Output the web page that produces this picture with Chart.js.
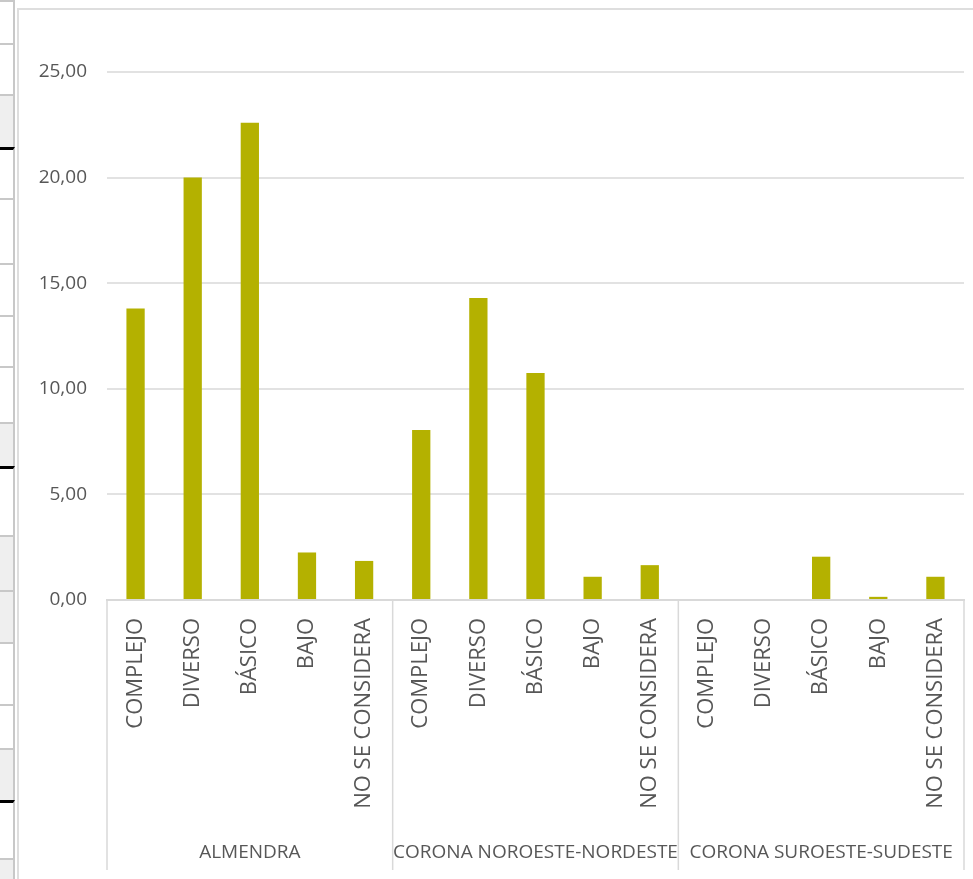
<!DOCTYPE html>
<html>
<head>
<meta charset="utf-8">
<script src="https://cdn.jsdelivr.net/npm/chart.js@4.4.1/dist/chart.umd.min.js"></script>
<style>
  body { margin: 0; background: #fff; width: 973px; height: 879px; overflow: hidden; position: relative; font-family: 'Open Sans', sans-serif; }
  #strip { position: absolute; left: 0; top: 0; width: 16px; height: 879px; }
  .row { position: absolute; left: 0; width: 15px; border-right: 2px solid #c8c8c8; box-sizing: border-box; }
  #frame { position: absolute; left: 17px; top: 8px; right: 0; bottom: 0; border-left: 2px solid #dedede; border-top: 2px solid #dedede; background: #fff; }
  #wrap { position: absolute; left: 18px; top: 10px; width: 955px; height: 869px; }
</style>
</head>
<body>
<div id="strip"></div>
<div id="frame"></div>
<div id="wrap"><canvas id="myChart"></canvas></div>
<script>
'use strict';

// data
var groups = ['ALMENDRA', 'CORONA NOROESTE-NORDESTE', 'CORONA SUROESTE-SUDESTE'];
var levels = ['COMPLEJO', 'DIVERSO', 'BÁSICO', 'BAJO', 'NO SE CONSIDERA'];
var almendra = [13.8, 20.0, 22.6, 2.25, 1.85];
var coronaNN = [8.05, 14.3, 10.75, 1.1, 1.65];
var coronaSS = [0, 0, 2.05, 0.15, 1.1];
var yTicks = [0, 5, 10, 15, 20, 25];

// spreadsheet rows peeking out on the left (top, bottom, grey?, black lines?)
var stripRows = [
    [0, 43, false, false], [43, 94, false, false], [94, 147, true, false],
    [147, 198, false, true], [198, 263, false, false], [263, 315, false, false],
    [315, 366, false, false], [366, 422, false, false], [422, 466, true, false],
    [466, 535, false, true], [535, 590, true, false], [590, 642, true, false],
    [642, 704, false, false], [704, 748, false, false], [748, 800, true, false],
    [800, 858, false, true], [858, 879, true, false]
];
var strip = document.getElementById('strip');
for (var r = 0; r < stripRows.length; r++) {
    var div = document.createElement('div');
    div.className = 'row';
    div.style.top = stripRows[r][0] + 'px';
    div.style.height = (stripRows[r][1] - stripRows[r][0]) + 'px';
    div.style.background = stripRows[r][2] ? '#efefef' : '#ffffff';
    var lineColor = stripRows[r][3] ? '#000' : '#c8c8c8';
    div.style.borderTop = (stripRows[r][3] ? 3 : 2) + 'px solid ' + lineColor;
    strip.appendChild(div);
}

var labels = [];
var values = [];
var series = [almendra, coronaNN, coronaSS];
for (var g = 0; g < groups.length; g++) {
    for (var i = 0; i < levels.length; i++) {
        labels.push(levels[i]);
        values.push(series[g][i]);
    }
}

var textColor = '#575757';
var lineGrey = '#d9d9d9';

// draws the second row of the category axis: group names and separators
var groupAxis = {
    id: 'groupAxis',
    afterDraw: function (chart) {
        var ctx = chart.ctx;
        var xs = chart.scales.x;
        var area = chart.chartArea;
        var step = (xs.right - xs.left) / labels.length;
        ctx.save();
        ctx.strokeStyle = lineGrey;
        ctx.lineWidth = 1.5;
        for (var g = 0; g <= groups.length; g++) {
            var x = xs.left + g * levels.length * step;
            ctx.beginPath();
            ctx.moveTo(x, area.bottom);
            ctx.lineTo(x, area.bottom + 270);
            ctx.stroke();
        }
        ctx.fillStyle = textColor;
        ctx.font = '19px "Open Sans"';
        ctx.textAlign = 'center';
        ctx.textBaseline = 'middle';
        for (var g = 0; g < groups.length; g++) {
            var cx = xs.left + (g + 0.5) * levels.length * step;
            ctx.fillText(groups[g], cx, area.bottom + 253);
        }
        ctx.restore();
    }
};

var ctx = document.getElementById('myChart').getContext('2d');
var chart = new Chart(ctx, {
    type: 'bar',
    data: {
        labels: labels,
        datasets: [{
            label: 'Serie',
            data: values,
            backgroundColor: '#b4b100',
            borderWidth: 0,
            barPercentage: 0.32,
            categoryPercentage: 1
        }]
    },
    options: {
        responsive: true,
        maintainAspectRatio: false,
        animation: false,
        layout: { padding: { top: 62, right: 9, bottom: 0, left: 0 } },
        plugins: {
            legend: { display: false },
            tooltip: { enabled: false }
        },
        scales: {
            x: {
                grid: { display: false },
                border: { color: lineGrey, width: 2 },
                ticks: {
                    color: textColor,
                    font: { family: 'Open Sans', size: 22 },
                    minRotation: 90,
                    maxRotation: 90,
                    autoSkip: false,
                    padding: 10
                },
                afterFit: function (scale) { scale.height = 279; }
            },
            y: {
                min: 0,
                max: 25,
                afterBuildTicks: function (scale) {
                    scale.ticks = yTicks.map(function (v) { return { value: v }; });
                },
                grid: { color: '#e2e2e2', lineWidth: 2, drawTicks: false },
                border: { display: false },
                ticks: {
                    color: textColor,
                    font: { family: 'Open Sans', size: 19 },
                    padding: 20,
                    callback: function (v) { return v.toFixed(2).replace('.', ','); }
                },
                afterFit: function (scale) { scale.width = 89; }
            }
        }
    },
    plugins: [groupAxis]
});
</script>
</body>
</html>
